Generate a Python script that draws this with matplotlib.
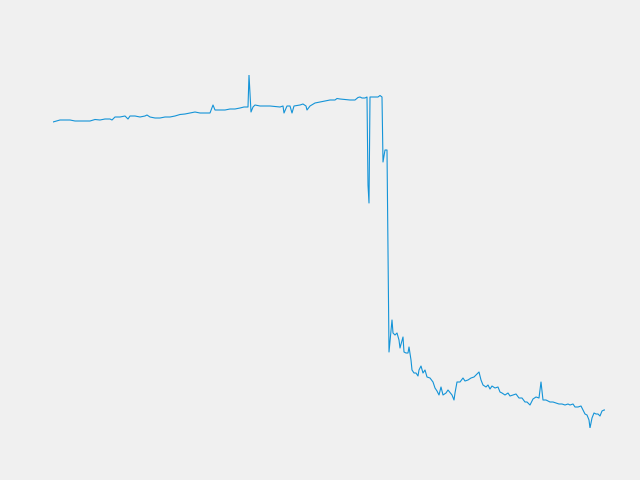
import numpy as np
import matplotlib.pyplot as plt

days = [0, 7, 17, 22, 27, 32, 37, 42, 47, 52, 57, 59, 62, 67, 72, 75, 77, 82, 87, 92,
        94, 97, 102, 107, 112, 117, 122, 127, 132, 137, 142, 147, 152, 157, 160, 162,
        167, 172, 177, 182, 187, 191, 195, 196, 198, 200, 202, 207, 212, 217, 222, 227,
        230, 231, 234, 237, 239, 241, 247, 250, 253, 254, 257, 262, 267, 272, 277, 282,
        284, 287, 292, 297, 302, 305, 307, 309, 312, 314, 315, 316, 317, 320, 325, 327,
        329, 330, 332, 334, 336, 338, 339, 340, 342, 344, 346, 347, 350, 351, 353, 355,
        356, 358, 359, 361, 363, 365, 366, 368, 370, 372, 374, 377, 380, 382, 384, 386,
        388, 390, 393, 395, 399, 401, 402, 404, 407, 410, 412, 415, 418, 421, 424, 426,
        428, 430, 433, 435, 437, 439, 442, 445, 447, 449, 452, 455, 457, 460, 463, 466,
        469, 472, 474, 477, 480, 483, 486, 488, 490, 493, 497, 500, 503, 506, 509, 512,
        515, 517, 520, 522, 525, 528, 530, 532, 534, 536, 537, 539, 541, 543, 545, 547,
        549, 551, 552]

values = [378, 380, 380, 379, 379, 379, 379, 380.5, 380, 381, 381, 380, 383, 383, 384,
          381, 384, 384, 383, 384, 385, 383, 382, 382, 383, 383, 384, 385.5, 386, 387,
          388, 387, 387, 387, 395, 390, 390, 390, 391, 391, 392, 393, 393, 425, 388, 393,
          395, 394, 394, 394, 393.5, 393, 394, 387, 394, 394, 387, 394, 395, 396, 394, 390,
          394, 397, 398, 399, 400, 400, 401.5, 401, 400.5, 400, 400, 402.5, 403, 402, 402,
          403, 315, 297, 403, 403, 403, 404.5, 403, 338, 350, 350, 148, 170, 180, 167, 165,
          167, 160, 152, 163, 148, 147, 147, 153, 140, 130, 127, 127, 124, 130, 134, 127,
          130, 123, 122, 118, 112, 109, 105, 113, 105, 107, 110, 105, 100, 107, 118, 118,
          122, 119, 120, 122, 123, 126, 128, 120, 115, 113, 115, 111, 114, 112, 113, 108,
          107, 105, 107, 104, 105, 106, 102, 102, 98, 98, 95, 101, 103, 102, 118, 100, 100,
          98, 98, 97, 96, 96, 95, 96, 95, 96, 93, 93, 94, 90, 86, 85, 80, 72, 82, 87, 86,
          86, 84, 89, 90, 90]

fig = plt.figure(figsize=(6.4, 4.8), dpi=100, facecolor='#f0f0f0')
ax = fig.add_axes([53/640, 52/480, 552/640, 353/480])
ax.set_facecolor('#f0f0f0')

ax.plot(days, values, color='#1494d8', linewidth=0.8)

ax.set_xlim(0, 552)
ax.set_ylim(72, 425)
ax.axis('off')

fig.savefig('out.png', facecolor=fig.get_facecolor())
